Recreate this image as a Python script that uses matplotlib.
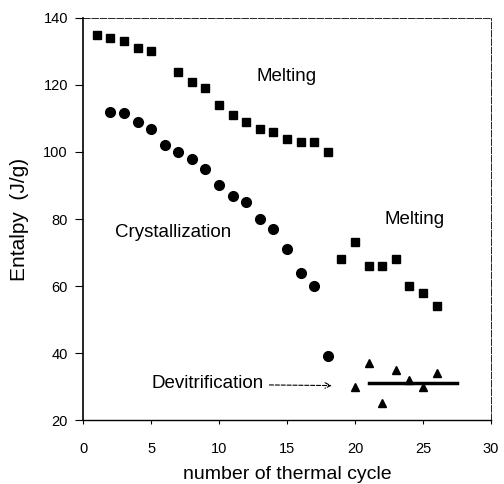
import matplotlib
matplotlib.use("Agg")
import matplotlib.pyplot as plt

plt.rcParams['font.family'] = ['Liberation Sans', 'DejaVu Sans']

# first melting series (squares)
melt1_x = [1, 2, 3, 4, 5, 7, 8, 9, 10, 11, 12, 13, 14, 15, 16, 17, 18]
melt1_y = [135, 134, 133, 131, 130, 124, 121, 119, 114, 111, 109, 107, 106, 104, 103, 103, 100]

# second melting series (squares)
melt2_x = [19, 20, 21, 22, 23, 24, 25, 26]
melt2_y = [68, 73, 66, 66, 68, 60, 58, 54]

# crystallization (circles)
cryst_x = [2, 3, 4, 5, 6, 7, 8, 9, 10, 11, 12, 13, 14, 15, 16, 17, 18]
cryst_y = [112, 111.5, 109, 107, 102, 100, 98, 95, 90, 87, 85, 80, 77, 71, 64, 60, 39]

# devitrification (triangles)
devit_x = [20, 21, 22, 23, 24, 25, 26]
devit_y = [30, 37, 25, 35, 32, 30, 34]
devit_mean_x = [21, 27.5]
devit_mean_y = [31, 31]

fig = plt.figure(figsize=(5.04, 4.84), dpi=100)
ax = fig.add_axes([0.165, 0.132, 0.809, 0.831])

ax.plot(melt1_x, melt1_y, 's', color='black', ms=6)
ax.plot(melt2_x, melt2_y, 's', color='black', ms=6)
ax.plot(cryst_x, cryst_y, 'o', color='black', ms=7)
ax.plot(devit_x, devit_y, '^', color='black', ms=6)
ax.plot(devit_mean_x, devit_mean_y, '-', color='black', lw=2.5)

ax.text(15.0, 122.5, "Melting", fontsize=13.5, ha='center', va='center')
ax.text(24.4, 80, "Melting", fontsize=13.5, ha='center', va='center')
ax.text(6.65, 76, "Crystallization", fontsize=13.5, ha='center', va='center')
ax.text(9.15, 31, "Devitrification", fontsize=13.5, ha='center', va='center')
ax.annotate("", xy=(18.5, 30.3), xytext=(13.5, 30.5),
            arrowprops=dict(arrowstyle='->', linestyle='--', color='black', lw=0.8))

ax.set_xlim(0, 30)
ax.set_ylim(20, 140)
ax.set_xticks(range(0, 31, 5))
ax.set_yticks(range(20, 141, 20))
ax.tick_params(axis='both', labelsize=10.5, width=0.8)
ax.tick_params(axis='y', length=6, pad=5)
ax.tick_params(axis='x', length=3, pad=13)
for s in ['top', 'right']:
    ax.spines[s].set_linewidth(0.6)
    ax.spines[s].set_linestyle((0, (8, 2)))
ax.spines['left'].set_linewidth(1.2)
ax.spines['bottom'].set_linewidth(1.0)

ax.set_xlabel("number of thermal cycle", fontsize=14, labelpad=7)
ax.set_ylabel("Entalpy  (J/g)", fontsize=15, labelpad=10)

fig.savefig("out.png", dpi=100)
